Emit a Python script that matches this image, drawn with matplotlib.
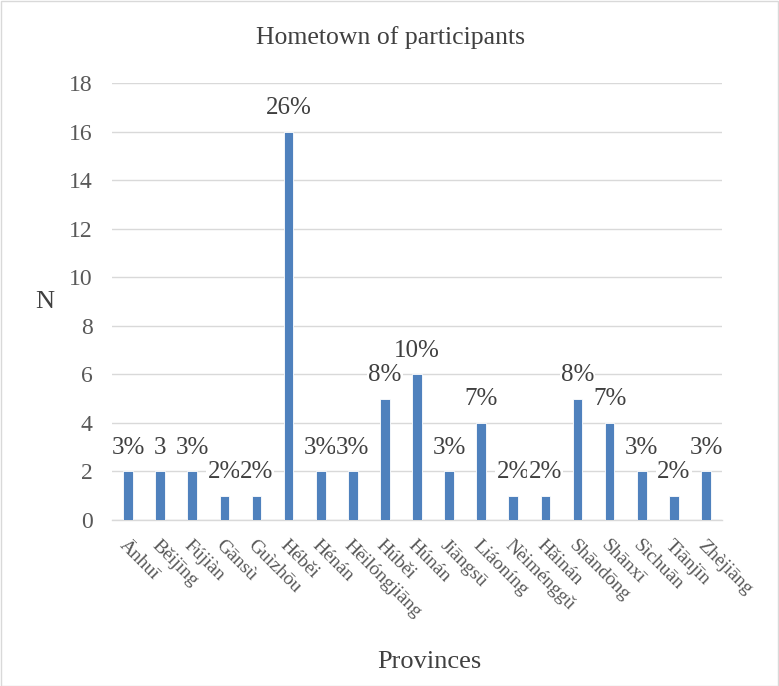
import matplotlib
matplotlib.use("Agg")
import matplotlib.pyplot as plt
from matplotlib.patches import Rectangle

provinces = ["Ānhuī", "Běijīng", "Fújiàn", "Gānsù", "Guìzhōu", "Héběi", "Hénán",
             "Hēilóngjiāng", "Húběi", "Húnán", "Jiāngsū", "Liáoníng", "Nèiménggǔ",
             "Hǎinán", "Shāndōng", "Shānxī", "Sìchuān", "Tiānjīn", "Zhèjiāng"]
counts = [2, 2, 2, 1, 1, 16, 2, 2, 5, 6, 2, 4, 1, 1, 5, 4, 2, 1, 2]
pct_labels = ["3%", "3", "3%", "2%", "2%", "26%", "3%", "3%", "8%", "10%", "3%",
              "7%", "2%", "2%", "8%", "7%", "3%", "2%", "3%"]
yticks = [0, 2, 4, 6, 8, 10, 12, 14, 16, 18]

plt.rcParams['font.family'] = ['Liberation Serif', 'DejaVu Serif']

fig = plt.figure(figsize=(7.79, 6.86), dpi=100)
ax = fig.add_axes([112/779, 1-520/686, (722-112)/779, (520-83)/686])

x = list(range(len(provinces)))
ax.bar(x, counts, width=0.3, color='#4f81bd', edgecolor='white', linewidth=0.6, zorder=3)

for xi, v, lab in zip(x, counts, pct_labels):
    ax.annotate(lab, (xi, v), xytext=(0, 9), textcoords='offset points',
                ha='center', va='bottom', fontsize=18, color='#404040', zorder=4,
                bbox=dict(boxstyle='square,pad=0.05', fc='white', ec='none'))

ax.set_xlim(-0.5, len(provinces) - 0.5)
ax.set_ylim(0, 18)
ax.set_yticks(yticks)
ax.yaxis.grid(True, color='#d9d9d9', linewidth=1, zorder=0)
ax.set_axisbelow(True)
for s in ['top', 'right', 'left']:
    ax.spines[s].set_visible(False)
ax.spines['bottom'].set_color('#d9d9d9')
ax.spines['bottom'].set_linewidth(1)
ax.spines['bottom'].set_zorder(2)
ax.tick_params(axis='y', length=0, labelsize=17, labelcolor='#595959', pad=14)
ax.tick_params(axis='x', length=0, labelsize=14, labelcolor='#595959', pad=12)
ax.set_xticks(x)
ax.set_xticklabels(provinces, rotation=-45, ha='left', va='top', rotation_mode='anchor')

ax.set_ylabel('N', fontsize=19, color='#404040', rotation=0, va='center')
ax.yaxis.set_label_coords(-0.11, 0.5)
ax.set_xlabel('Provinces', fontsize=19, color='#404040', va='center')
ax.xaxis.set_label_coords((429-112)/(722-112), -(662-520)/(520-83))
fig.text(390/779, 1-38/686, 'Hometown of participants', ha='center', va='center',
         fontsize=18.5, color='#404040')

fig.patches.append(Rectangle((0.5/779, 0.5/686), 1-1.5/779, 1-1.5/686, transform=fig.transFigure,
                             fill=False, ec='#d9d9d9', lw=1))

fig.savefig('out.png', dpi=100, facecolor='white')
